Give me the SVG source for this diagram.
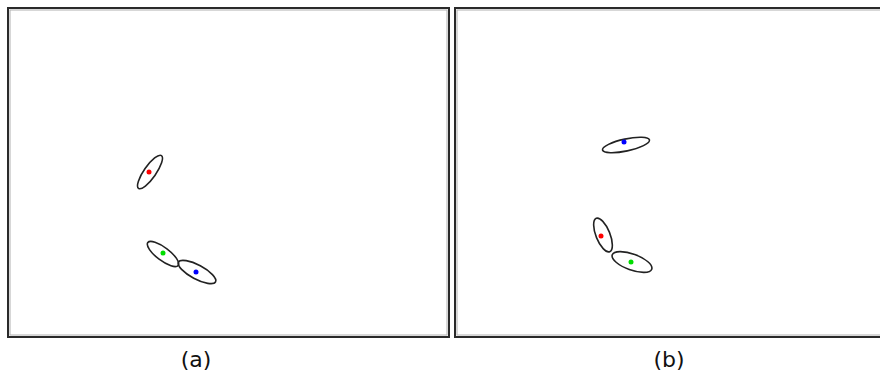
<svg xmlns="http://www.w3.org/2000/svg" width="880" height="376" viewBox="0 0 880 376">
<style>
.frame{fill:#fff;stroke:#2a2a2a;stroke-width:2}
.inner{fill:none;stroke:#b0b0b0;stroke-width:1}
.blob{fill:none;stroke:#222;stroke-width:1.6}
.lbl{font-family:"DejaVu Sans",Verdana,sans-serif;font-size:22px;fill:#111;text-anchor:middle}
</style>
<rect width="880" height="376" fill="#fff"/>
<g id="panel-a">
<rect class="frame" x="8" y="8" width="441" height="329"/>
<rect class="inner" x="10" y="10" width="437" height="325"/>
<ellipse class="blob" cx="150" cy="172" rx="20" ry="6" transform="rotate(-55 150 172)"/>
<circle cx="149" cy="172" r="2.5" fill="#f00"/>
<ellipse class="blob" cx="163" cy="254" rx="19" ry="6.5" transform="rotate(37 163 254)"/>
<circle cx="163" cy="253" r="2.5" fill="#0d0"/>
<ellipse class="blob" cx="197" cy="272" rx="21" ry="7" transform="rotate(28 197 272)"/>
<circle cx="196" cy="272" r="2.5" fill="#00f"/>
<text class="lbl" x="196" y="367">(a)</text>
</g>
<g id="panel-b">
<rect class="frame" x="455" y="8" width="430" height="329"/>
<rect class="inner" x="457" y="10" width="430" height="325"/>
<ellipse class="blob" cx="626" cy="145" rx="24" ry="6" transform="rotate(-12 626 145)"/>
<circle cx="624" cy="142" r="2.5" fill="#00f"/>
<ellipse class="blob" cx="603" cy="235" rx="18" ry="7" transform="rotate(68 603 235)"/>
<circle cx="601" cy="236" r="2.5" fill="#f00"/>
<ellipse class="blob" cx="632" cy="262" rx="21" ry="8" transform="rotate(20 632 262)"/>
<circle cx="631" cy="262" r="2.5" fill="#0d0"/>
<text class="lbl" x="669" y="367">(b)</text>
</g>
</svg>
